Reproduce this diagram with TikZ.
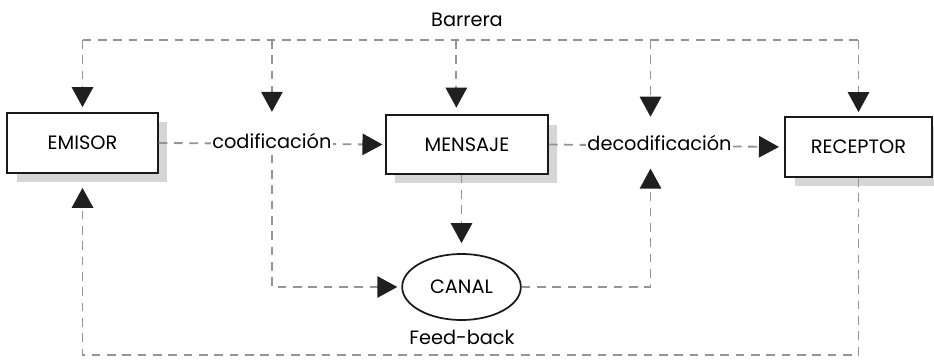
\documentclass[tikz,border=0pt]{standalone}
\usepackage{fontspec}
\setmainfont{Poppins}
\usetikzlibrary{arrows.meta,shapes.geometric,shadows}

\tikzset{
    dashline/.style={draw=black!42, line width=1.4pt, dash pattern=on 6.5pt off 5pt},
    tip/.style={-{Triangle[length=15pt,width=16pt,color=black!88,fill=black!88]}},
    box/.style={draw=black!90, line width=1.3pt, fill=white,
        drop shadow={shadow xshift=7pt, shadow yshift=-7pt, fill=black!16, opacity=1}},
    lbl/.style={fill=white, inner sep=1pt, text height=10pt, text depth=3pt}
}

\begin{document}
\begin{tikzpicture}[x=0.75pt, y=-0.75pt, font=\fontsize{14.5}{17}\selectfont]
    \useasboundingbox (0,0) rectangle (934,360);

    % Main elements
    \node[box, minimum width=113pt, minimum height=45pt] (emisor) at (82.5,143) {EMISOR};
    \node[box, minimum width=121.5pt, minimum height=44pt] (mensaje) at (467,144.5) {MENSAJE};
    \node[box, minimum width=110pt, minimum height=45pt] (receptor) at (858.5,147) {RECEPTOR};
    \node[ellipse, draw=black!90, line width=1.3pt, fill=white,
        minimum width=89pt, minimum height=49.5pt] (canal) at (461.5,287) {CANAL};

    % Barrier and feedback lines
    \coordinate (top) at (0,40);
    \coordinate (bottom) at (0,355);
    \node (barrera) at (467,20) {Barrera};
    \node (feedback) at (462,337) {Feed-back};

    % Forward path with labels
    \draw[dashline, tip, shorten >=2pt] (emisor.east) -- node[lbl] (cod) {codificación} (mensaje.west);
    \draw[dashline, tip, shorten >=4pt] (mensaje.east) -- node[lbl, pos=0.47] (decod) {decodificación} (receptor.west);

    % Barrier drops
    \draw[dashline] (emisor.north |- top) -- (receptor.north |- top);
    \draw[dashline, tip, shorten >=3.75pt] (emisor.north |- top) -- (emisor.north);
    \draw[dashline, tip, shorten >=15.75pt] (cod.north |- top) -- (cod.north);
    \draw[dashline, tip, shorten >=5pt] ([xshift=-8pt]mensaje.north |- top) -- ([xshift=-8pt]mensaje.north);
    \draw[dashline, tip, shorten >=13.5pt] ([xshift=-6.75pt]decod.north |- top) -- ([xshift=-6.75pt]decod.north);
    \draw[dashline, tip, shorten >=3pt] (receptor.north |- top) -- (receptor.north);

    % Channel
    \draw[dashline, tip, shorten >=3pt] (cod.south) |- (canal.west);
    \draw[dashline, tip, shorten >=7.5pt] (mensaje.south -| canal.north) -- (canal.north);
    \draw[dashline, tip, shorten >=9pt] (canal.east) -| ([xshift=-6.75pt]decod.south);

    % Feed-back from receptor to emisor
    \draw[dashline, tip, shorten >=10.5pt] (receptor.south) |- (emisor.south |- bottom) -- (emisor.south);
\end{tikzpicture}
\end{document}
